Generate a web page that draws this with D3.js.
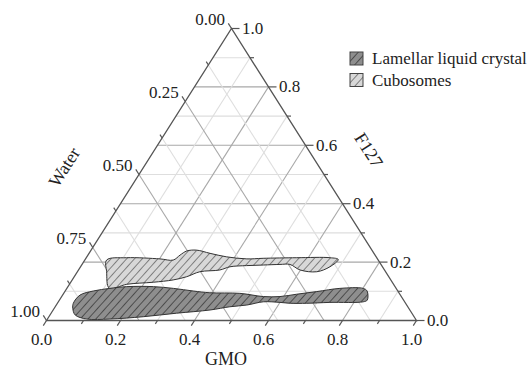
<!DOCTYPE html>
<html>
<head>
<meta charset="utf-8">
<script src="https://cdn.jsdelivr.net/npm/d3@7"></script>
<style>
  body { margin: 0; background: #fff; }
  text { font-family: "Liberation Serif", "Times New Roman", serif; fill: #222; }
</style>
</head>
<body>
<svg id="chart" width="529" height="370"></svg>
<script>
// phase regions as [GMO, F127] (water = 1 - GMO - F127)
var lamellar = [
  [0.043, 0.059], [0.047, 0.087], [0.076, 0.101], [0.116, 0.110], [0.159, 0.116],
  [0.231, 0.116], [0.288, 0.110], [0.346, 0.101], [0.394, 0.095], [0.476, 0.093],
  [0.545, 0.082], [0.590, 0.082], [0.631, 0.090], [0.681, 0.099], [0.738, 0.110],
  [0.801, 0.110], [0.816, 0.101], [0.832, 0.070], [0.824, 0.064], [0.735, 0.062],
  [0.674, 0.059], [0.629, 0.059], [0.600, 0.062], [0.554, 0.064], [0.515, 0.053],
  [0.472, 0.047], [0.424, 0.036], [0.339, 0.025], [0.255, 0.013], [0.169, 0.005],
  [0.106, 0.005], [0.068, 0.019], [0.050, 0.042]
];
var cubosomes = [
  [0.059, 0.207], [0.109, 0.215], [0.201, 0.211], [0.239, 0.207], [0.249, 0.224],
  [0.260, 0.238], [0.285, 0.241], [0.327, 0.230], [0.378, 0.218], [0.436, 0.211],
  [0.479, 0.213], [0.569, 0.215], [0.659, 0.215], [0.684, 0.209], [0.674, 0.184],
  [0.647, 0.167], [0.599, 0.173], [0.562, 0.192], [0.535, 0.192], [0.491, 0.190],
  [0.447, 0.188], [0.404, 0.184], [0.382, 0.173], [0.331, 0.167], [0.304, 0.150],
  [0.273, 0.139], [0.223, 0.131], [0.155, 0.124], [0.115, 0.110], [0.079, 0.167]
];
var legendItems = ['Lamellar liquid crystal', 'Cubosomes'];

var gmoTicks = [0, 0.2, 0.4, 0.6, 0.8, 1.0];
var gmoMinor = [0.1, 0.3, 0.5, 0.7, 0.9];
var f127Ticks = [0, 0.2, 0.4, 0.6, 0.8, 1.0];
var f127Minor = [0.1, 0.3, 0.5, 0.7, 0.9];
var waterTicks = [0, 0.25, 0.5, 0.75, 1.0];
var waterMinor = [0.125, 0.375, 0.625, 0.875];

var svg = d3.select('#chart');

// triangle frame: bottom from x 46.5 to 416.5, apex at y 28.5
var xs = d3.scaleLinear().domain([0, 1]).range([46.5, 416.5]);
var ys = d3.scaleLinear().domain([0, 1]).range([320.5, 28.5]);

function pt(g, f) { return [xs(g + f / 2), ys(f)]; }

// patterns
var defs = svg.append('defs');
function hatch(id, bg, line) {
  var p = defs.append('pattern').attr('id', id)
    .attr('patternUnits', 'userSpaceOnUse')
    .attr('width', 5.8).attr('height', 5.8)
    .attr('patternTransform', 'rotate(42)');
  p.append('rect').attr('width', 5.8).attr('height', 5.8).attr('fill', bg);
  p.append('line').attr('x1', 0).attr('y1', 0).attr('x2', 0).attr('y2', 5.8)
    .attr('stroke', line).attr('stroke-width', 1.6);
}
hatch('hatchDark', '#8e8e8e', '#3c3c3c');
hatch('hatchLight', '#d8d8d8', '#6a6a6a');

// grid
var grid = svg.append('g');
function gl(a, b, major) {
  grid.append('line')
    .attr('x1', a[0]).attr('y1', a[1]).attr('x2', b[0]).attr('y2', b[1])
    .attr('stroke', major ? '#a8a8a8' : '#dedede').attr('stroke-width', 1.1);
}
f127Ticks.concat(f127Minor).forEach(function(f) {
  if (f <= 0 || f >= 1) return;
  gl(pt(0, f), pt(1 - f, f), Math.round(f * 10) % 2 === 0);
});
gmoTicks.concat(gmoMinor).forEach(function(g) {
  if (g <= 0 || g >= 1) return;
  gl(pt(g, 0), pt(g, 1 - g), Math.round(g * 10) % 2 === 0);
});
waterTicks.concat(waterMinor).forEach(function(w) {
  if (w <= 0 || w >= 1) return;
  gl(pt(1 - w, 0), pt(0, 1 - w), Math.round(w * 8) % 2 === 0);
});

// regions
var line = d3.line()
  .x(function(d) { return pt(d[0], d[1])[0]; })
  .y(function(d) { return pt(d[0], d[1])[1]; })
  .curve(d3.curveCatmullRomClosed.alpha(0.5));

svg.append('path').attr('d', line(cubosomes))
  .attr('fill', 'url(#hatchLight)').attr('stroke', '#333').attr('stroke-width', 1);
svg.append('path').attr('d', line(lamellar))
  .attr('fill', 'url(#hatchDark)').attr('stroke', '#333').attr('stroke-width', 1);

// frame
svg.append('path')
  .attr('d', 'M' + pt(0, 0) + 'L' + pt(1, 0) + 'L' + pt(0, 1) + 'Z')
  .attr('fill', 'none').attr('stroke', '#555').attr('stroke-width', 1.3);

var ax = svg.append('g').attr('stroke', '#555').attr('stroke-width', 1.2);
var lab = svg.append('g').style('font-size', '17px');

// bottom axis (GMO), ticks point down-left
var dn = [-0.535, 0.845];
gmoTicks.forEach(function(g) {
  var p = pt(g, 0);
  ax.append('line').attr('x1', p[0]).attr('y1', p[1])
    .attr('x2', p[0] + dn[0] * 6).attr('y2', p[1] + dn[1] * 6);
  lab.append('text').attr('x', p[0] - 5).attr('y', p[1] + 24)
    .attr('text-anchor', 'middle').text(d3.format('.1f')(g));
});
gmoMinor.forEach(function(g) {
  var p = pt(g, 0);
  ax.append('line').attr('x1', p[0]).attr('y1', p[1])
    .attr('x2', p[0] + dn[0] * 4).attr('y2', p[1] + dn[1] * 4);
});

// right axis (F127), ticks point right
f127Ticks.forEach(function(f) {
  var p = pt(1 - f, f);
  ax.append('line').attr('x1', p[0]).attr('y1', p[1])
    .attr('x2', p[0] + 8).attr('y2', p[1]);
  lab.append('text').attr('x', p[0] + 10.5).attr('y', p[1] + 5.5)
    .text(d3.format('.1f')(f));
});
f127Minor.forEach(function(f) {
  var p = pt(1 - f, f);
  ax.append('line').attr('x1', p[0]).attr('y1', p[1])
    .attr('x2', p[0] + 4).attr('y2', p[1]);
});

// left axis (Water), ticks point up-left
var up = [-0.535, -0.845];
waterTicks.forEach(function(w) {
  var p = pt(0, 1 - w);
  ax.append('line').attr('x1', p[0]).attr('y1', p[1])
    .attr('x2', p[0] + up[0] * 6).attr('y2', p[1] + up[1] * 6);
  lab.append('text').attr('x', p[0] - 6.5).attr('y', p[1] - 3.5)
    .attr('text-anchor', 'end').text(d3.format('.2f')(w));
});
waterMinor.forEach(function(w) {
  var p = pt(0, 1 - w);
  ax.append('line').attr('x1', p[0]).attr('y1', p[1])
    .attr('x2', p[0] + up[0] * 4).attr('y2', p[1] + up[1] * 4);
});

// axis titles
svg.append('text').attr('x', 226).attr('y', 365).attr('text-anchor', 'middle')
  .style('font-size', '18px').text('GMO');
svg.append('text').attr('text-anchor', 'middle').attr('dy', '0.35em')
  .attr('transform', 'translate(64,167) rotate(-57.5)')
  .style('font-size', '18px').text('Water');
svg.append('text').attr('text-anchor', 'middle').attr('dy', '0.35em')
  .attr('transform', 'translate(369,150) rotate(57.5)')
  .style('font-size', '18px').text('F127');

// legend
var lg = svg.append('g').attr('transform', 'translate(350,52)');
legendItems.forEach(function(name, i) {
  var r = lg.append('g').attr('transform', 'translate(0,' + (i * 21.5) + ')');
  r.append('rect').attr('width', 13).attr('height', 13)
    .attr('fill', i === 0 ? 'url(#hatchDark)' : 'url(#hatchLight)')
    .attr('stroke', '#444').attr('stroke-width', 1);
  r.append('text').attr('x', 22).attr('y', 6.5).attr('dy', '0.35em')
    .style('font-size', '17px').text(name);
});
</script>
</body>
</html>
